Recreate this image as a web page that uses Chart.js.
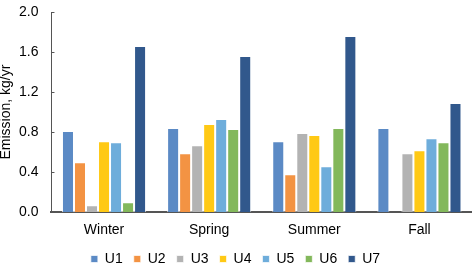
<!DOCTYPE html>
<html>
<head>
<meta charset="utf-8">
<script src="https://cdn.jsdelivr.net/npm/chart.js@4/dist/chart.umd.min.js"></script>
<style>
  html, body { margin: 0; padding: 0; background: #fff; }
  #wrap { width: 472px; height: 268px; }
</style>
</head>
<body>
<div id="wrap"><canvas id="myChart"></canvas></div>
<script>
// seasons on the x axis
const seasons = ['Winter', 'Spring', 'Summer', 'Fall'];

// emission values per unit, kg/yr
const u1 = [0.81, 0.84, 0.71, 0.84];
const u2 = [0.50, 0.59, 0.38, null];
const u3 = [0.07, 0.67, 0.79, 0.59];
const u4 = [0.71, 0.88, 0.77, 0.62];
const u5 = [0.70, 0.93, 0.46, 0.74];
const u6 = [0.10, 0.83, 0.84, 0.70];
const u7 = [1.66, 1.56, 1.76, 1.09];

const yTicks = [0.0, 0.4, 0.8, 1.2, 1.6, 2.0];

const unitNames = ['U1', 'U2', 'U3', 'U4', 'U5', 'U6', 'U7'];
const unitData = [u1, u2, u3, u4, u5, u6, u7];
const unitColors = ['#5b8ac5', '#f39343', '#b3b3b3', '#ffc915', '#6eaddb', '#83b85b', '#31588c'];

document.addEventListener("DOMContentLoaded", function() {
    drawChart();
});

// small tick marks pointing into the plot, like the original
const innerTicks = {
    id: 'innerTicks',
    afterDraw: function(chart) {
        const yScale = chart.scales.y;
        const c = chart.ctx;
        c.save();
        c.strokeStyle = '#555';
        c.lineWidth = 1;
        yScale.ticks.forEach(function(t) {
            const py = Math.round(yScale.getPixelForValue(t.value)) + 0.5;
            c.beginPath();
            c.moveTo(yScale.right, py);
            c.lineTo(yScale.right + 3, py);
            c.stroke();
        });
        c.restore();
    }
};

function drawChart() {
    const ctx = document.getElementById('myChart').getContext('2d');
    const font = "'Liberation Sans', Arial, sans-serif";

    let datasets = [];
    for (let i = 0; i < unitNames.length; i++) {
        datasets.push({
            label: unitNames[i],
            data: unitData[i],
            backgroundColor: unitColors[i],
            borderColor: 'rgba(255,255,255,0.7)',
            borderWidth: 1,
            categoryPercentage: 0.8,
            barPercentage: 1.0
        });
    }

    new Chart(ctx, {
        type: 'bar',
        data: {
            labels: seasons,
            datasets: datasets
        },
        plugins: [innerTicks],
        options: {
            responsive: true,
            maintainAspectRatio: false,
            animation: false,
            layout: { padding: { top: -4, right: 0, left: -1, bottom: -8 } },
            plugins: {
                tooltip: { enabled: false },
                legend: {
                    position: 'bottom',
                    labels: {
                        boxWidth: 7,
                        boxHeight: 7,
                        padding: 11,
                        color: '#000',
                        font: { family: font, size: 14 }
                    }
                }
            },
            scales: {
                x: {
                    grid: { display: false },
                    border: { display: true, color: '#555', width: 2 },
                    ticks: { color: '#000', padding: 2, font: { family: font, size: 14 } }
                },
                y: {
                    min: 0,
                    max: 2.0,
                    afterBuildTicks: function(axis) {
                        axis.ticks = yTicks.map(v => ({ value: v }));
                    },
                    grid: { display: false },
                    border: { display: true, color: '#555', width: 1 },
                    ticks: {
                        color: '#000',
                        padding: 5,
                        font: { family: font, size: 14, lineHeight: 1 },
                        callback: function(v) { return Number(v).toFixed(1); }
                    },
                    title: {
                        display: true,
                        text: 'Emission, kg/yr',
                        color: '#000',
                        padding: { top: 0, bottom: 1 },
                        font: { family: font, size: 14, lineHeight: 1 }
                    }
                }
            }
        }
    });
}
</script>
</body>
</html>
